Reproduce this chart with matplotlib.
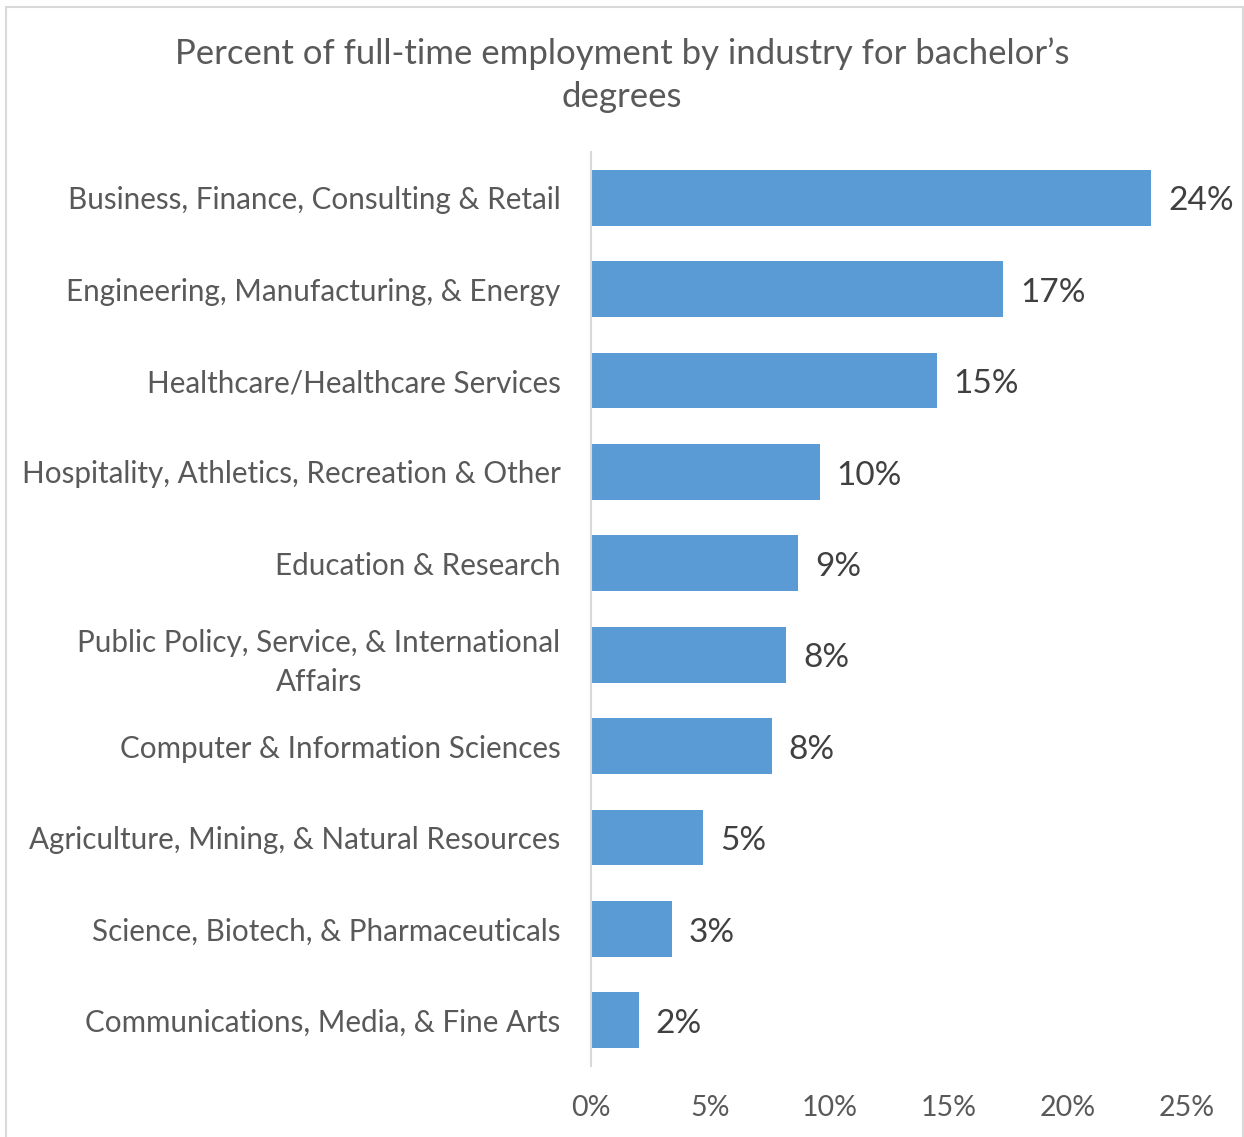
import matplotlib.pyplot as plt
from matplotlib.patches import Rectangle
from matplotlib.ticker import FuncFormatter

plt.rcParams['font.family'] = ['Lato', 'DejaVu Sans']

industries = [
    'Business, Finance, Consulting & Retail',
    'Engineering, Manufacturing, & Energy',
    'Healthcare/Healthcare Services',
    'Hospitality, Athletics, Recreation & Other',
    'Education & Research',
    'Public Policy, Service, & International\nAffairs',
    'Computer & Information Sciences',
    'Agriculture, Mining, & Natural Resources',
    'Science, Biotech, & Pharmaceuticals',
    'Communications, Media, & Fine Arts',
]
percent = [23.5, 17.3, 14.5, 9.6, 8.7, 8.2, 7.6, 4.7, 3.4, 2.0]
bar_labels = ['24%', '17%', '15%', '10%', '9%', '8%', '8%', '5%', '3%', '2%']
xticks = [0, 5, 10, 15, 20, 25]

fig = plt.figure(figsize=(12.44, 11.37), dpi=100)
# chart frame
fig.patches.append(Rectangle((6 / 1244, -0.01), 1237 / 1244, 1 - 7 / 1137 + 0.01,
                             transform=fig.transFigure, fill=False,
                             edgecolor='#d9d9d9', linewidth=1.5))

ax = fig.add_axes([591 / 1244, 1 - 1066 / 1137, (1187 - 591) / 1244, (1066 - 152) / 1137])
pos = list(range(len(industries)))
ax.barh(pos, percent, height=0.61, color='#5b9bd5')
ax.set_ylim(len(industries) - 0.5, -0.5)
ax.set_xlim(0, 25)
ax.set_yticks(pos)
ax.set_yticklabels(industries, fontsize=21.3, color='#595959', ha='right',
                   multialignment='center', linespacing=1.45)
ax.set_xticks(xticks)
ax.xaxis.set_major_formatter(FuncFormatter(lambda v, p: f'{v:.0f}%'))
ax.tick_params(axis='x', length=0, labelsize=20.5, labelcolor='#595959', pad=21)
ax.tick_params(axis='y', length=0, pad=22)
for s in ['top', 'right', 'bottom']:
    ax.spines[s].set_visible(False)
ax.spines['left'].set_color('#d9d9d9')
ax.spines['left'].set_linewidth(1.5)

for p, v, lab in zip(pos, percent, bar_labels):
    ax.text(v + 0.7, p + 0.04, lab, va='center', ha='left', fontsize=24, color='#404040')

fig.text(0.5, 1 - 75 / 1137, 'Percent of full-time employment by industry for bachelor\u2019s\ndegrees',
         ha='center', va='center', fontsize=25, color='#595959', linespacing=1.4)

fig.savefig('out.png', dpi=100)
